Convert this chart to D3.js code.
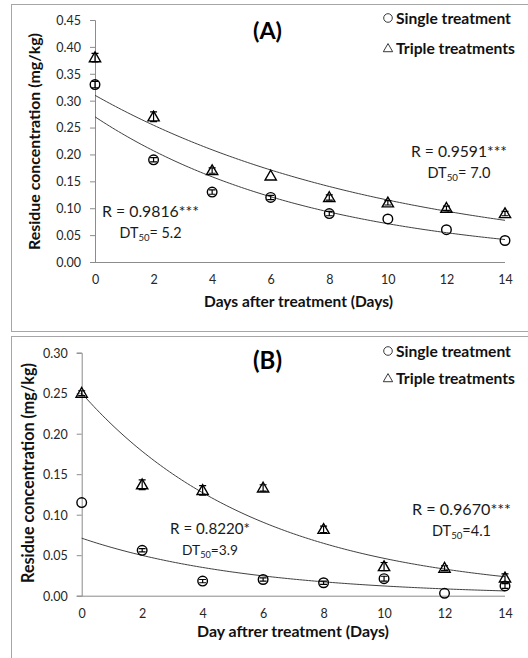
<!DOCTYPE html>
<html><head><meta charset="utf-8">
<script src="https://cdn.jsdelivr.net/npm/d3@7"></script>
<style>body{margin:0;background:#fff}svg{display:block}text{font-family:Lato,"Open Sans",sans-serif}</style>
</head><body>
<svg id="c" width="528" height="658"></svg>
<script>
const days = [0,2,4,6,8,10,12,14];
const xTicks = [0,2,4,6,8,10,12,14];
// Panel A
const aSingle = [0.33,0.19,0.13,0.12,0.09,0.08,0.06,0.04];
const aSingleErr = [0.006,0.004,0.004,0.004,0.004,0,0,0];
const aTriple = [0.38,0.27,0.17,0.16,0.12,0.11,0.10,0.09];
const aTripleErr = [0.008,0.009,0.005,0,0.005,0.004,0.004,0.004];
const aYTicks = [0,0.05,0.10,0.15,0.20,0.25,0.30,0.35,0.40,0.45];
const aFitSingle = {c0:0.27, dt50:5.2, r:"R = 0.9816***", dt:"= 5.2"};
const aFitTriple = {c0:0.31, dt50:7.0, r:"R = 0.9591***", dt:"= 7.0"};
// Panel B
const bSingle = [0.115,0.056,0.018,0.020,0.016,0.021,0.003,0.012];
const bSingleErr = [0,0.002,0.002,0.002,0.002,0.003,0,0.003];
const bTriple = [0.25,0.137,0.13,0.133,0.082,0.036,0.034,0.022];
const bTripleErr = [0.003,0.006,0.006,0.004,0.004,0.005,0.003,0.005];
const bYTicks = [0,0.05,0.10,0.15,0.20,0.25,0.30];
const bFitSingle = {c0:0.071, dt50:3.9, r:"R = 0.8220*", dt:"=3.9"};
const bFitTriple = {c0:0.25, dt50:4.1, r:"R = 0.9670***", dt:"=4.1"};

const svg = d3.select("#c");
function fitW(sel, w){
  const cur = +sel.attr("font-size");
  const bw = sel.node().getComputedTextLength();
  if (bw>0) sel.attr("font-size", (cur*w/bw).toFixed(2));
  return sel;
}
const panels = [
 {label:"(A)", box:[11.5,4.5,530,327], x:[95,505], y:[262,20], ymax:0.45, yt:aYTicks,
  s:aSingle, se:aSingleErr, t:aTriple, te:aTripleErr, fs:aFitSingle, ft:aFitTriple,
  xtitle:"Days after treatment (Days)", xtc:298.5, xtW:189, ytc:[35,141.5], ytW:217, xtY:307, titleY:39, legY:[18,48],
  annS:[150.5,217], annSW:[97,62], annT:[459,157], annTW:[96,63]},
 {label:"(B)", box:[11.5,336.5,530,340], x:[81.7,505], y:[595.7,352.7], ymax:0.30, yt:bYTicks,
  s:bSingle, se:bSingleErr, t:bTriple, te:bTripleErr, fs:bFitSingle, ft:bFitTriple,
  xtitle:"Day aftrer treatment (Days)", xtc:293, xtW:192, ytc:[29,473], ytW:220, xtY:637, titleY:369, legY:[351,378],
  annS:[210,534], annSW:[80,56], annT:[461.5,515], annTW:[99,59]}
];

panels.forEach(p=>{
  const g = svg.append("g");
  g.append("rect").attr("x",p.box[0]).attr("y",p.box[1]).attr("width",p.box[2]).attr("height",p.box[3])
    .attr("fill","none").attr("stroke","#a6a6a6");
  const x = d3.scaleLinear().domain([0,14]).range(p.x);
  const y = d3.scaleLinear().domain([0,p.ymax]).range(p.y);
  const ya = g.append("g").attr("transform",`translate(${p.x[0]},0)`)
    .call(d3.axisLeft(y).tickValues(p.yt).tickFormat(d3.format(".2f")).tickSize(5).tickPadding(9));
  const xa = g.append("g").attr("transform",`translate(0,${p.y[0]})`)
    .call(d3.axisBottom(x).tickValues(xTicks).tickSize(0).tickPadding(14).tickFormat(d3.format("d")));
  [ya,xa].forEach(a=>{a.select(".domain").attr("stroke","#8c8c8c");a.selectAll(".tick line").attr("stroke","#8c8c8c");
    a.selectAll("text").attr("font-size",12.5).attr("fill","#262626").attr("font-family","Lato,sans-serif");});
  xa.selectAll("text").attr("dy",null).attr("y",22);
  ya.selectAll("text").attr("dy","0.35em");
  xa.select(".domain").attr("d",`M${p.x[0]},0.5H${p.x[1]}`);
  // fits
  const line = d3.line().x(d=>x(d[0])).y(d=>y(d[1]));
  [p.fs,p.ft].forEach(f=>{
    const k = Math.LN2/f.dt50;
    const pts = d3.range(0,14.001,0.1).map(t=>[t,f.c0*Math.exp(-k*t)]);
    g.append("path").attr("d",line(pts)).attr("fill","none").attr("stroke","#404040").attr("stroke-width",1);
  });
  const eb = (vals,errs)=>{
    vals.forEach((v,i)=>{
      const e=errs[i]; if(!e) return;
      const cx=x(days[i]);
      g.append("path").attr("d",`M${cx},${y(v-e)}V${y(v+e)}M${cx-3.5},${y(v+e)}H${cx+3.5}M${cx-3.5},${y(v-e)}H${cx+3.5}`)
        .attr("stroke","#000").attr("stroke-width",1.2).attr("fill","none");
    });
  };
  eb(p.t,p.te); eb(p.s,p.se);
  g.selectAll(null).data(p.t).enter().append("path")
    .attr("d",d3.symbol(d3.symbolTriangle,55)())
    .attr("transform",(d,i)=>`translate(${x(days[i])},${y(d)+0.8})`)
    .attr("fill","none").attr("stroke","#000").attr("stroke-width",1.4);
  g.selectAll(null).data(p.s).enter().append("circle")
    .attr("cx",(d,i)=>x(days[i])).attr("cy",d=>y(d)).attr("r",4.8)
    .attr("fill","none").attr("stroke","#000").attr("stroke-width",1.4);
  // titles
  fitW(g.append("text").attr("x",267.5).attr("y",p.titleY).attr("text-anchor","middle")
    .attr("font-size",17).attr("font-weight","bold").text(p.label), 29);
  fitW(g.append("text").attr("x",p.xtc).attr("y",p.xtY).attr("text-anchor","middle")
    .attr("font-size",14).attr("font-weight","bold").attr("fill","#111").text(p.xtitle), p.xtW);
  fitW(g.append("text").attr("transform",`translate(${p.ytc[0]+5},${p.ytc[1]}) rotate(-90)`).attr("text-anchor","middle")
    .attr("font-size",14).attr("font-weight","bold").attr("fill","#111").text("Residue concentration (mg/kg)"), p.ytW);
  // legend
  g.append("circle").attr("cx",388).attr("cy",p.legY[0]).attr("r",4.3).attr("fill","none").attr("stroke","#222").attr("stroke-width",0.9);
  fitW(g.append("text").attr("x",396).attr("y",p.legY[0]+5.5).attr("font-size",14).attr("font-weight","bold").attr("fill","#111").text("Single treatment"),115);
  g.append("path").attr("d",d3.symbol(d3.symbolTriangle,38)()).attr("transform",`translate(388,${p.legY[1]+1})`)
    .attr("fill","none").attr("stroke","#222").attr("stroke-width",0.9);
  fitW(g.append("text").attr("x",396).attr("y",p.legY[1]+5.5).attr("font-size",14).attr("font-weight","bold").attr("fill","#111").text("Triple treatments"),119);
  // annotations
  const ann = (pos,wd,f)=>{
    fitW(g.append("text").attr("x",pos[0]).attr("y",pos[1]).attr("text-anchor","middle").attr("font-size",13.5).attr("fill","#1a1a1a").text(f.r), wd[0]);
    const t = g.append("text").attr("x",pos[0]).attr("y",pos[1]+21).attr("text-anchor","middle").attr("font-size",13.5).attr("fill","#1a1a1a");
    t.append("tspan").text("DT");
    t.append("tspan").attr("font-size",9).attr("dy",3).text("50");
    t.append("tspan").attr("dy",-3).text(f.dt);
    const bw = t.node().getComputedTextLength();
    const sc = wd[1]/bw;
    t.attr("font-size",(13.5*sc).toFixed(2));
    t.select("tspan:nth-child(2)").attr("font-size",(9*sc).toFixed(2));
  };
  ann(p.annS,p.annSW,p.fs); ann(p.annT,p.annTW,p.ft);
});
</script>
</body></html>
